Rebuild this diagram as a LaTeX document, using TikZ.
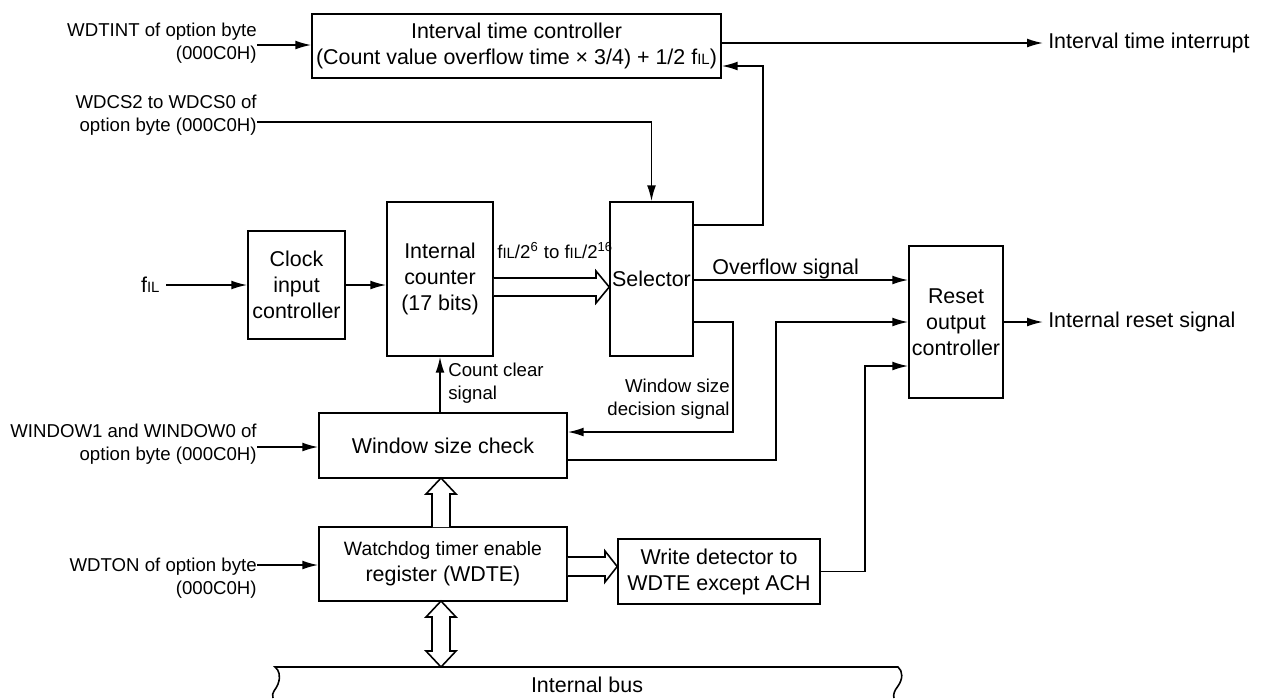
\documentclass[tikz,border=0pt]{standalone}
\usepackage{fontspec}
\setmainfont{Liberation Sans}
\usepackage{tikz}
\usetikzlibrary{arrows.meta, positioning, calc}
\newcommand{\boxfont}{\fontsize{12.2}{14.8}\selectfont}
\newcommand{\lblfont}{\fontsize{10.6}{12.8}\selectfont}
\newcommand{\fIL}{f{\fontsize{8.5}{8.5}\selectfont IL}}
\tikzset{
  block/.style={rectangle, draw, line width=0.9pt, align=center,
    inner sep=0pt, font=\boxfont},
  sig/.style={-{Latex[length=9pt,width=5pt]}, line width=0.9pt},
  wire/.style={line width=0.9pt},
  fat/.style={draw, line width=0.9pt, fill=white, line join=miter},
  inlbl/.style={align=right, font=\lblfont, inner sep=0pt, anchor=east},
  outlbl/.style={font=\boxfont, inner sep=2.8pt, anchor=west},
  note/.style={font=\lblfont, inner sep=0pt}
}

\begin{document}
\begin{tikzpicture}[x=0.02cm, y=-0.02cm]
  \useasboundingbox (0,0) rectangle (1264,698);

  % Blocks
  \node[block, minimum width=8.18cm, minimum height=1.28cm] (itc) at (516.5,46)
    {Interval time controller\\(Count value overflow time × 3/4) + 1/2 \fIL)};
  \node[block, minimum width=1.94cm, minimum height=2.16cm] (clk) at (296.5,285)
    {Clock\\input\\controller};
  \node[block, minimum width=2.12cm, minimum height=3.08cm] (cnt) at (440,279)
    {Internal\\counter\\(17 bits)};
  \node[block, minimum width=1.66cm, minimum height=3.08cm] (sel) at (651.5,279)
    {Selector};
  \node[block, minimum width=1.88cm, minimum height=3.04cm] (rst) at (956,322)
    {Reset\\output\\controller};
  \node[block, minimum width=4.96cm, minimum height=1.30cm] (win) at (443,445.5)
    {Window size check};
  \node[block, minimum width=4.96cm, minimum height=1.48cm] (wdte) at (443,564)
    {{\fontsize{11}{14.8}\selectfont Watchdog timer enable}\\register (WDTE)};
  \node[block, minimum width=4.04cm, minimum height=1.30cm] (wdet) at (719,571.5)
    {Write detector to\\WDTE except ACH};

  % Input labels
  \node[inlbl] (wdtint) at (257,43) {WDTINT of option byte\\(000C0H)};
  \node[inlbl] (wdcs) at (257,115) {WDCS2 to WDCS0 of\\option byte (000C0H)};
  \node[font=\boxfont, inner sep=3.5pt, anchor=east] (fil) at (166,285) {\fIL};
  \node[inlbl] (wnd) at (257,444) {WINDOW1 and WINDOW0 of\\option byte (000C0H)};
  \node[inlbl] (wdton) at (257,578) {WDTON of option byte\\(000C0H)};

  % Output labels
  \node[outlbl] (iti) at (1043,43) {Interval time interrupt};
  \node[outlbl] (irs) at (1043,322) {Internal reset signal};

  % Signal labels
  \node[note, anchor=base west] (frq) at (497,258)
    {\fIL/2\textsuperscript{6} to \fIL/2\textsuperscript{16}};
  \node[font=\boxfont, inner sep=0pt, anchor=base west] (ovf) at (712,274) {Overflow signal};
  \node[note, anchor=north west, align=left] (ccl) at (448,363) {Count clear\\signal};
  \node[note, anchor=north east, align=right] (wsd) at (730,379) {Window size\\decision signal};

  % Inputs
  \draw[sig] (wdtint.east |- 0,45) -- (itc.west |- 0,45);
  \draw[sig] (wdcs.east |- 0,122) -| (sel.north);
  \draw[sig] (fil.east) -- (clk.west |- fil.east);
  \draw[sig] (clk.east |- fil.east) -- (cnt.west |- fil.east);
  \draw[sig] (wnd.east |- 0,447) -- (win.west |- 0,447);
  \draw[sig] (wdton.east |- 0,565) -- (wdte.west |- 0,565);

  % Selector outputs
  \draw[sig] (sel.east |- 0,225) -- (763,225) -- (763,66) -- (itc.east |- 0,66);
  \draw[sig] (sel.east |- 0,280) -- (rst.west |- 0,280);
  \draw[sig] (sel.east |- 0,322) -- (733,322) -- (733,432) -- (win.east |- 0,432);
  \draw[sig] (cnt.south |- win.north) -- (cnt.south);

  % Into reset output controller
  \draw[sig] (win.east |- 0,460) -- (776,460) -- (776,322) -- (rst.west |- 0,322);
  \draw[sig] (wdet.east) -- (865,571.5) -- (865,366) -- (rst.west |- 0,366);

  % Outputs
  \draw[sig] (itc.east |- iti.west) -- (iti.west);
  \draw[sig] (rst.east) -- (irs.west);

  % Wide arrows
  \draw[fat] (cnt.east |- 0,278) -- (596,278) -- (596,271) -- (sel.west |- 0,287)
    -- (596,303) -- (596,296) -- (cnt.east |- 0,296);
  \draw[fat] (432,527) -- (432,494) -- (426,494) -- (441,478) -- (456,494)
    -- (450,494) -- (450,527);
  \draw[fat] (wdte.east |- 0,557) -- (605,557) -- (605,551) -- (wdet.west |- 0,566.5)
    -- (605,582) -- (605,576) -- (wdte.east |- 0,576);
  \draw[fat] (441,601) -- (456,617) -- (450,617) -- (450,651) -- (456,651) -- (441,667)
    -- (426,651) -- (432,651) -- (432,617) -- (426,617) -- cycle;

  % Internal bus
  \draw[wire] (273,698) .. controls (271,692) and (276,690) .. (278,684)
    .. controls (281,676) and (279,670) .. (275,667) -- (898,667)
    .. controls (903,671) and (903,679) .. (898,686)
    .. controls (894,691) and (893,695) .. (894,698);
  \node[font=\boxfont, inner sep=0pt] (bus) at (587,685) {Internal bus};
\end{tikzpicture}
\end{document}
